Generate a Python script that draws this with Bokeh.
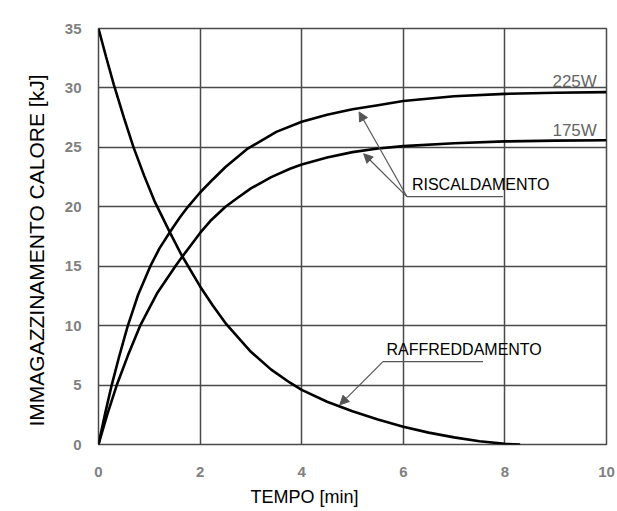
from bokeh.plotting import figure
from bokeh.models import Range1d, FixedTicker, Label, Arrow, NormalHead, Title
from bokeh.embed import file_html
from bokeh.resources import INLINE

# --- data ---
x_ticks = [0, 2, 4, 6, 8, 10]
y_ticks = [0, 5, 10, 15, 20, 25, 30, 35]

t_225 = [0, 0.13, 0.26, 0.4, 0.57, 0.78, 1.02, 1.2, 1.41, 1.6, 1.76, 2.0, 2.25, 2.5,
         2.92, 3.5, 4.0, 4.5, 5.0, 5.5, 6.0, 7.0, 8.0, 9.0, 10.0]
q_225 = [0, 2.6, 5, 7.3, 9.9, 12.6, 15, 16.5, 17.9, 19.1, 20, 21.2, 22.3, 23.35,
         24.85, 26.3, 27.15, 27.75, 28.2, 28.55, 28.9, 29.3, 29.5, 29.6, 29.65]

t_175 = [0, 0.17, 0.36, 0.58, 0.82, 1.15, 1.53, 1.64, 2.0, 2.2, 2.5, 2.72, 3.0, 3.4,
         3.77, 4.0, 4.5, 5.0, 5.5, 6.0, 7.0, 8.0, 9.0, 10.0]
q_175 = [0, 2.5, 5, 7.5, 10, 12.7, 15.1, 15.75, 17.8, 18.8, 20.0, 20.7, 21.55, 22.5,
         23.2, 23.55, 24.15, 24.6, 24.9, 25.1, 25.35, 25.5, 25.57, 25.6]

t_cool = [0, 0.15, 0.3, 0.5, 0.69, 0.9, 1.1, 1.41, 1.64, 2.0, 2.25, 2.52, 3.0,
          3.4, 3.77, 4.0, 4.5, 5.0, 5.5, 6.0, 6.5, 7.0, 7.5, 8.0, 8.3]
q_cool = [35, 32.6, 30.3, 27.5, 25.0, 22.6, 20.5, 17.8, 15.9, 13.3, 11.7, 10.1, 7.8,
          6.3, 5.2, 4.6, 3.6, 2.8, 2.1, 1.5, 1.0, 0.6, 0.28, 0.06, 0]

series_names = ["225W", "175W"]
label_heating = "RISCALDAMENTO"
label_cooling = "RAFFREDDAMENTO"
x_title = "TEMPO [min]"
y_title = "IMMAGAZZINAMENTO CALORE [kJ]"

FONT = "Liberation Sans"
GRID = "#4a4a4a"
TICK_COLOR = "#808080"
ANN = "#555555"

p = figure(width=617, height=511, x_range=Range1d(0, 10), y_range=Range1d(0, 35),
           output_backend="svg", toolbar_location=None,
           min_border_left=98, min_border_right=11, min_border_top=28, min_border_bottom=66)
p.background_fill_color = "white"
p.border_fill_color = "white"
p.outline_line_color = GRID
p.outline_line_width = 1.5

p.xaxis.ticker = FixedTicker(ticks=x_ticks)
p.yaxis.ticker = FixedTicker(ticks=y_ticks)
for ax in (p.xaxis, p.yaxis):
    ax.axis_line_color = None
    ax.major_tick_line_color = None
    ax.minor_tick_line_color = None
    ax.major_label_text_font = FONT
    ax.major_label_text_font_size = "15px"
    ax.major_label_text_font_style = "bold"
    ax.major_label_text_color = TICK_COLOR
p.xaxis.major_label_standoff = 16
p.yaxis.major_label_standoff = 11

p.xgrid.ticker = FixedTicker(ticks=x_ticks)
p.ygrid.ticker = FixedTicker(ticks=y_ticks)
for g in (p.xgrid, p.ygrid):
    g.grid_line_color = GRID
    g.grid_line_width = 1.5

p.line(t_cool, q_cool, line_color="black", line_width=2.6)
p.line(t_175, q_175, line_color="black", line_width=2.6)
p.line(t_225, q_225, line_color="black", line_width=2.6)

# axis titles, placed off-centre as in the reference
p.add_layout(Title(text=x_title, align="left", offset=152, standoff=10,
                   text_font=FONT, text_font_size="18px", text_font_style="normal",
                   text_color="black"), "below")
p.add_layout(Title(text=y_title, align="left", offset=18, standoff=28,
                   text_font=FONT, text_font_size="21px", text_font_style="normal",
                   text_color="black"), "left")

# series labels at the right end of the heating curves
p.add_layout(Label(x=9.81, y=30.58, text=series_names[0], text_align="right",
                   text_baseline="middle", text_font=FONT, text_font_size="17px",
                   text_color="#666666"))
p.add_layout(Label(x=9.81, y=26.39, text=series_names[1], text_align="right",
                   text_baseline="middle", text_font=FONT, text_font_size="17px",
                   text_color="#666666"))

# heating annotation
p.add_layout(Label(x=6.17, y=21.86, text=label_heating, text_align="left",
                   text_baseline="middle", text_font=FONT, text_font_size="16px",
                   text_color="black"))
p.segment(x0=[6.07], y0=[20.86], x1=[7.96], y1=[20.86], line_color=ANN, line_width=1.2)
for (tx, ty) in [(5.13, 27.98), (5.22, 24.46)]:
    p.add_layout(Arrow(x_start=6.07, y_start=20.86, x_end=tx, y_end=ty,
                       line_color=ANN, line_width=1.2,
                       end=NormalHead(size=9, fill_color=ANN, line_color=ANN, line_width=1)))

# cooling annotation
p.add_layout(Label(x=5.67, y=8.03, text=label_cooling, text_align="left",
                   text_baseline="middle", text_font=FONT, text_font_size="16px",
                   text_color="black"))
p.segment(x0=[5.60], y0=[6.97], x1=[7.57], y1=[6.97], line_color=ANN, line_width=1.2)
p.add_layout(Arrow(x_start=5.60, y_start=6.97, x_end=4.75, y_end=3.34,
                   line_color=ANN, line_width=1.2,
                   end=NormalHead(size=9, fill_color=ANN, line_color=ANN, line_width=1)))

open("out.html", "w").write(file_html(p, INLINE))
